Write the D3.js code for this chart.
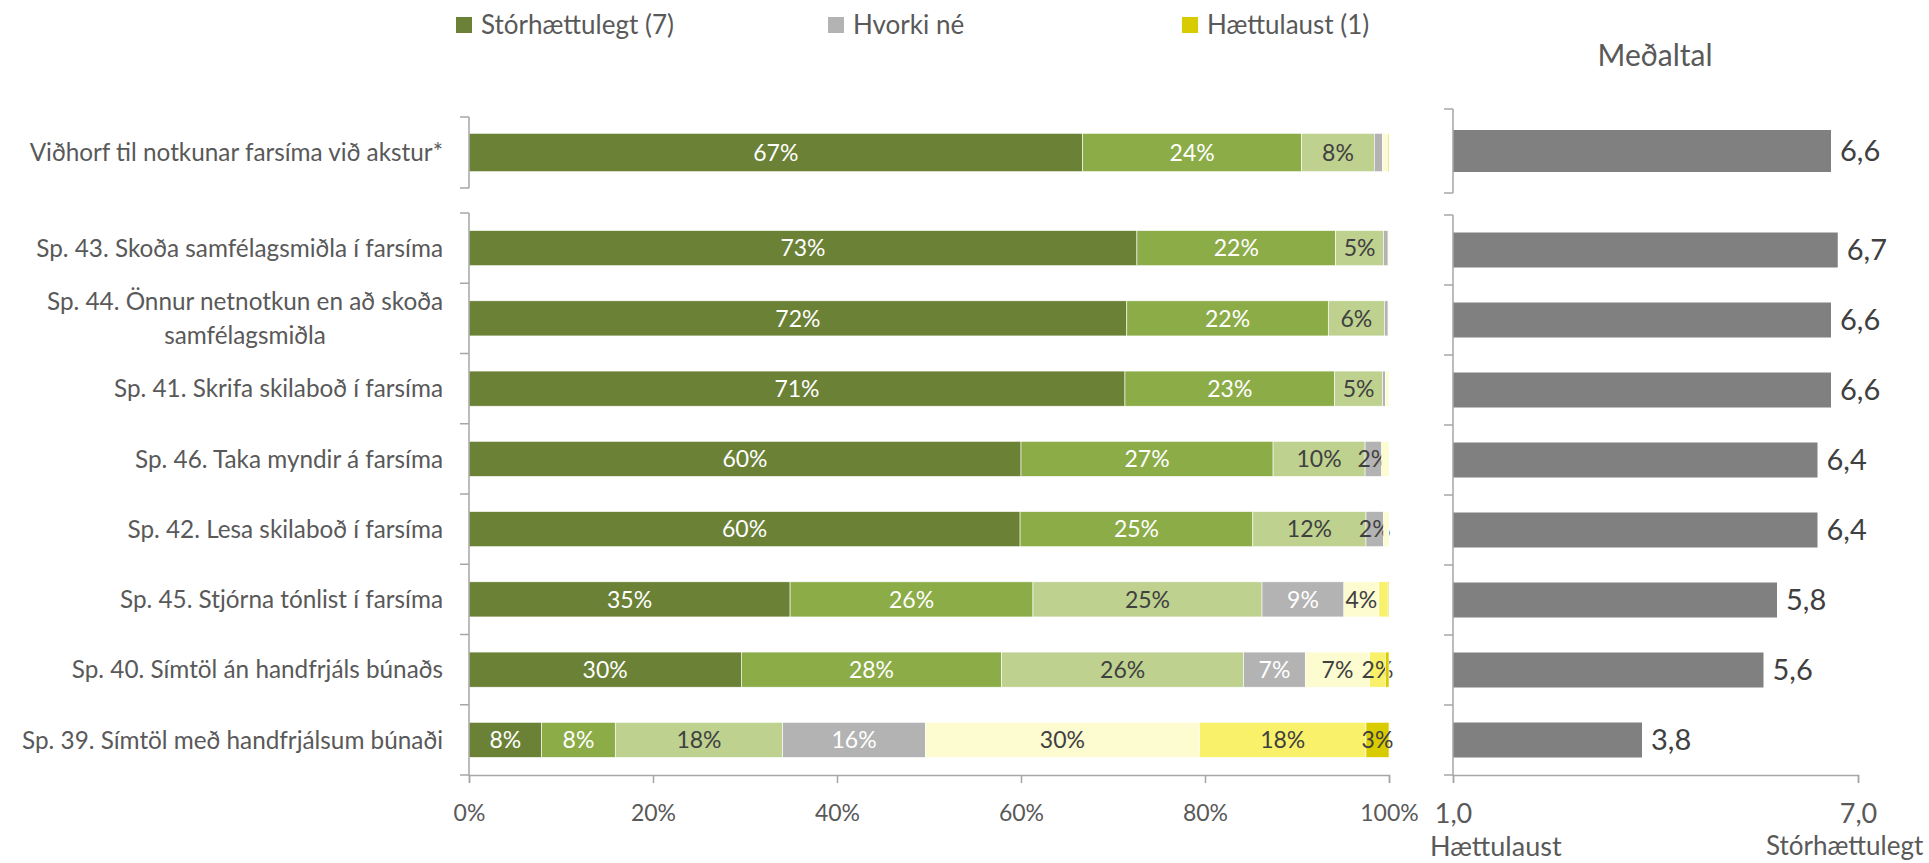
<!DOCTYPE html>
<html>
<head>
<meta charset="utf-8">
<script src="https://cdn.jsdelivr.net/npm/d3@7"></script>
<style>
  body { margin: 0; background: #fff; }
  svg text { font-family: Lato, "Open Sans", sans-serif; fill: #595959; }
</style>
</head>
<body>
<div id="chart"></div>
<script>
var categories = [
    "Viðhorf til notkunar farsíma við akstur*",
    "Sp. 43. Skoða samfélagsmiðla í farsíma",
    "Sp. 44. Önnur netnotkun en að skoða|samfélagsmiðla",
    "Sp. 41. Skrifa skilaboð í farsíma",
    "Sp. 46. Taka myndir á farsíma",
    "Sp. 42. Lesa skilaboð í farsíma",
    "Sp. 45. Stjórna tónlist í farsíma",
    "Sp. 40. Símtöl án handfrjáls búnaðs",
    "Sp. 39. Símtöl með handfrjálsum búnaði"
];
// share of answers per scale point, 7 = stórhættulegt ... 1 = hættulaust
var s7 = [66.7, 72.6, 71.5, 71.3, 60.0, 59.9, 34.9, 29.6, 7.9];
var s6 = [23.8, 21.6, 21.9, 22.8, 27.4, 25.3, 26.4, 28.3, 8.0];
var s5 = [7.9, 5.2, 6.1, 5.2, 10.0, 12.3, 24.9, 26.3, 18.2];
var s4 = [0.9, 0.5, 0.4, 0.3, 1.8, 1.9, 8.9, 6.7, 15.5];
var s3 = [0.5, 0.1, 0.1, 0.4, 0.8, 0.6, 3.8, 7.0, 29.8];
var s2 = [0.1, 0, 0, 0, 0, 0, 1.0, 1.7, 18.1];
var s1 = [0.1, 0, 0, 0, 0, 0, 0.1, 0.4, 2.5];
var means = [6.6, 6.7, 6.6, 6.6, 6.4, 6.4, 5.8, 5.6, 3.8];

var seriesKeys = ["s7", "s6", "s5", "s4", "s3", "s2", "s1"];
var seriesColors = ["#6a8136", "#8cac48", "#bed18f", "#b3b3b3", "#fdfbd0", "#f9f16a", "#d8cc00"];
var lightLabel = { s7: true, s6: true, s4: true };
var legendItems = [
    { label: "Stórhættulegt (7)", color: "#6a8136", x: 456 },
    { label: "Hvorki né", color: "#b3b3b3", x: 828 },
    { label: "Hættulaust (1)", color: "#d8cc00", x: 1182 }
];
var pctTicks = [0, 20, 40, 60, 80, 100];
var meanTicks = [1, 7];

var W = 1929, H = 863;
var axisColor = "#a6a6a6";

var rows = categories.map(function(c, i) {
    return { cat: c, s7: s7[i], s6: s6[i], s5: s5[i], s4: s4[i], s3: s3[i], s2: s2[i], s1: s1[i], mean: means[i] };
});
var topRows = rows.slice(0, 1);
var mainRows = rows.slice(1);

var svg = d3.select("#chart").append("svg")
    .attr("width", W)
    .attr("height", H);

var x = d3.scaleLinear().domain([0, 100]).range([469, 1389]);
var xm = d3.scaleLinear().domain([1, 7]).range([1453, 1858]);

var yTop = d3.scaleBand().domain(topRows.map(function(d) { return d.cat; }))
    .range([117, 188]).paddingInner(0.46).paddingOuter(0.23);
var yMain = d3.scaleBand().domain(mainRows.map(function(d) { return d.cat; }))
    .range([213, 775]).paddingInner(0.5).paddingOuter(0.25);
var yTopR = d3.scaleBand().domain(topRows.map(function(d) { return d.cat; }))
    .range([109, 193]).paddingInner(0.5).paddingOuter(0.25);
var yMainR = d3.scaleBand().domain(mainRows.map(function(d) { return d.cat; }))
    .range([215, 775]).paddingInner(0.5).paddingOuter(0.25);

var stack = d3.stack().keys(seriesKeys);

function bracket(g, yScale, x0) {
    var step = yScale.step();
    var edges = [];
    var r = yScale.range();
    var n = yScale.domain().length;
    for (var k = 0; k <= n; k++) edges.push(r[0] + k * step);
    g.append("line")
        .attr("x1", x0).attr("x2", x0)
        .attr("y1", r[0]).attr("y2", r[1])
        .attr("stroke", axisColor).attr("stroke-width", 1.5);
    g.selectAll("line.tick").data(edges).enter()
        .append("line").attr("class", "tick")
        .attr("x1", x0 - 9).attr("x2", x0)
        .attr("y1", function(d) { return d; })
        .attr("y2", function(d) { return d; })
        .attr("stroke", axisColor).attr("stroke-width", 1.5);
}

function drawStacked(data, yScale) {
    var g = svg.append("g");
    var layers = stack(data);
    layers.forEach(function(layer, li) {
        var key = layer.key;
        g.selectAll("rect." + key).data(layer).enter()
            .append("rect")
            .attr("x", function(d) { return x(d[0]); })
            .attr("y", function(d) { return yScale(d.data.cat); })
            .attr("width", function(d) { return Math.max(0, x(d[1]) - x(d[0])); })
            .attr("height", yScale.bandwidth())
            .attr("fill", seriesColors[li])
            .attr("stroke", "#ffffff")
            .attr("stroke-width", 0.6);
        g.selectAll("text." + key).data(layer.filter(function(d) { return d[1] - d[0] >= 1.5; })).enter()
            .append("text")
            .attr("x", function(d) { return (x(d[0]) + x(d[1])) / 2; })
            .attr("y", function(d) { return yScale(d.data.cat) + yScale.bandwidth() / 2; })
            .attr("dy", "0.36em")
            .attr("text-anchor", "middle")
            .style("font-size", "23px")
            .style("fill", function(d) {
                return (lightLabel[key] && d[1] - d[0] >= 3) ? "#ffffff" : "#404040";
            })
            .text(function(d) { return Math.round(d[1] - d[0]) + "%"; });
    });
    bracket(g, yScale, 469);

    // category labels, "|" splits a label over two centred lines
    g.selectAll("text.cat").data(data).enter()
        .append("text")
        .attr("class", "cat")
        .style("font-size", "24.3px")
        .each(function(d) {
            var parts = d.cat.split("|");
            var t = d3.select(this);
            var cy = yScale(d.cat) + yScale.bandwidth() / 2;
            if (parts.length == 1) {
                t.attr("text-anchor", "end").attr("x", 443).attr("y", cy).attr("dy", "0.36em").text(parts[0]);
            } else {
                var l1 = t.append("tspan").text(parts[0]);
                var w1 = l1.node().getComputedTextLength();
                t.attr("text-anchor", "middle");
                l1.attr("x", 443 - w1 / 2).attr("y", cy - 8.5);
                t.append("tspan").text(parts[1]).attr("x", 443 - w1 / 2).attr("y", cy + 25.5);
            }
        });
}

function drawMeans(data, yScale) {
    var g = svg.append("g");
    g.selectAll("rect").data(data).enter()
        .append("rect")
        .attr("x", xm(1))
        .attr("y", function(d) { return yScale(d.cat); })
        .attr("width", function(d) { return xm(d.mean) - xm(1); })
        .attr("height", yScale.bandwidth())
        .attr("fill", "#808080");
    g.selectAll("text").data(data).enter()
        .append("text")
        .attr("x", function(d) { return xm(d.mean) + 9; })
        .attr("y", function(d) { return yScale(d.cat) + yScale.bandwidth() / 2; })
        .attr("dy", "0.36em")
        .style("font-size", "29px")
        .style("fill", "#404040")
        .text(function(d) { return d3.format(".1f")(d.mean).replace(".", ","); });
    bracket(g, yScale, 1453);
}

drawStacked(topRows, yTop);
drawStacked(mainRows, yMain);
drawMeans(topRows, yTopR);
drawMeans(mainRows, yMainR);

// bottom axes
var xAxis = d3.axisBottom(x).tickValues(pctTicks).tickSize(8).tickFormat(function(d) { return d + "%"; });
var gx = svg.append("g").attr("transform", "translate(0,775)").call(xAxis);
var xmAxis = d3.axisBottom(xm).tickValues(meanTicks).tickSize(8)
    .tickFormat(function(d) { return d3.format(".1f")(d).replace(".", ","); });
var gxm = svg.append("g").attr("transform", "translate(0,775)").call(xmAxis);
[gx, gxm].forEach(function(g, i) {
    g.select(".domain").attr("stroke", axisColor).attr("stroke-width", 1.5);
    g.selectAll(".tick line").attr("stroke", axisColor).attr("stroke-width", 1.5);
    g.selectAll(".tick text").attr("y", 38).attr("dy", "0.36em")
        .style("font-size", i == 0 ? "23px" : "27px").style("fill", "#595959").style("font-family", null);
});

svg.append("text").attr("x", 1430).attr("y", 846).attr("dy", "0.36em").style("font-size", "27px").text("Hættulaust");
svg.append("text").attr("x", 1766).attr("y", 846).attr("dy", "0.36em").style("font-size", "26px").text("Stórhættulegt");
svg.append("text").attr("x", 1655).attr("y", 55).attr("dy", "0.36em").attr("text-anchor", "middle")
    .style("font-size", "30px").text("Meðaltal");

// legend
var lg = svg.selectAll("g.legend").data(legendItems).enter()
    .append("g").attr("class", "legend")
    .attr("transform", function(d) { return "translate(" + d.x + ",17)"; });
lg.append("rect").attr("width", 16).attr("height", 16).attr("fill", function(d) { return d.color; });
lg.append("text").attr("x", 25).attr("y", 8).attr("dy", "0.36em")
    .style("font-size", "26px").text(function(d) { return d.label; });
</script>
</body>
</html>
